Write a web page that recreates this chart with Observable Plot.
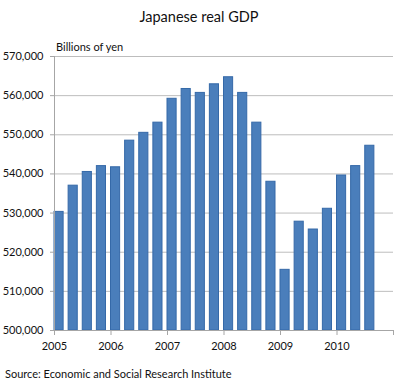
<!DOCTYPE html>
<html>
<head>
<meta charset="utf-8">
<script src="https://cdn.jsdelivr.net/npm/d3@7"></script>
<script src="https://cdn.jsdelivr.net/npm/@observablehq/plot@0.6"></script>
<style>
  html, body { margin: 0; padding: 0; background: #fff; }
  #wrap { position: relative; width: 400px; height: 390px; font-family: Lato, "Open Sans", sans-serif; color: #111; }
  #title { position: absolute; left: 0; width: 398px; top: 8px; text-align: center; font-size: 14.5px; }
  #unit { position: absolute; left: 56px; top: 40px; font-size: 11px; }
  #source { position: absolute; left: 5px; top: 367px; font-size: 11px; }
  #chart { position: absolute; left: 0; top: 0; }
</style>
</head>
<body>
<div id="wrap">
  <div id="chart"></div>
  <div id="title">Japanese real GDP</div>
  <div id="unit">Billions of yen</div>
  <div id="source">Source: Economic and Social Research Institute</div>
</div>
<script>
const years = [2005, 2005, 2005, 2005, 2006, 2006, 2006, 2006, 2007, 2007, 2007, 2007,
               2008, 2008, 2008, 2008, 2009, 2009, 2009, 2009, 2010, 2010, 2010];
const quarters = [1, 2, 3, 4, 1, 2, 3, 4, 1, 2, 3, 4, 1, 2, 3, 4, 1, 2, 3, 4, 1, 2, 3];
const gdp = [530300, 537000, 540500, 542000, 541700, 548500, 550500, 553100,
             559200, 561700, 560700, 562900, 564700, 560700, 553100, 538000,
             515500, 527800, 525800, 531100, 539600, 542000, 547200];
const yearTicks = [2005, 2006, 2007, 2008, 2009, 2010, 2011];
const yearLabels = ["2005", "2006", "2007", "2008", "2009", "2010", ""];
const yTicks = [500000, 510000, 520000, 530000, 540000, 550000, 560000, 570000];

const data = gdp.map((v, i) => ({ t: years[i] + (quarters[i] - 1) / 4, v }));
const yMin = yTicks[0];

const chart = Plot.plot({
  width: 400,
  height: 390,
  marginLeft: 54,
  marginRight: 7,
  marginTop: 56,
  marginBottom: 60,
  style: { fontFamily: "Lato, 'Open Sans', sans-serif", fontSize: "11px", color: "#111", background: "transparent" },
  x: { domain: [2005, 2011], label: null },
  y: { domain: [500000, 570000], label: null },
  marks: [
    Plot.gridY(yTicks.slice(1), { stroke: "#bdbdbd", strokeOpacity: 1 }),
    Plot.rect(data, { x1: "t", x2: d => d.t + 0.25, y1: yMin, y2: "v", insetRight: 5,
                      fill: "#4a7ebb", stroke: "#3569a8", strokeWidth: 1 }),
    Plot.ruleX([2005], { stroke: "#a6a6a6" }),
    Plot.ruleY([yMin], { stroke: "#a6a6a6" }),
    Plot.axisY(yTicks, { tickSize: 4, tickPadding: 7, tickFormat: d3.format(","), stroke: "#a6a6a6", fill: "#111", label: null }),
    Plot.axisX(yearTicks, { tickSize: 5, tickPadding: 7, tickFormat: (d, i) => yearLabels[i], stroke: "#a6a6a6", fill: "#111", label: null })
  ]
});
document.getElementById("chart").appendChild(chart);
</script>
</body>
</html>
